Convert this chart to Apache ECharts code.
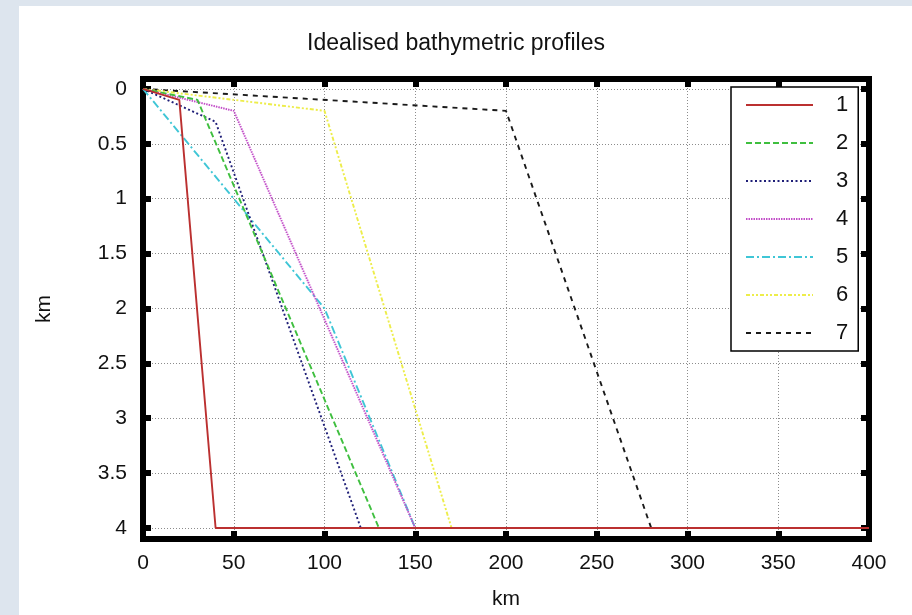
<!DOCTYPE html>
<html>
<head>
<meta charset="utf-8">
<script src="https://cdn.jsdelivr.net/npm/echarts@6/dist/echarts.min.js"></script>
<style>
  html, body { margin: 0; padding: 0; background: #dde5ee; }
  #chart { width: 912px; height: 615px; }
</style>
</head>
<body>
<div id="chart"></div>
<script>
// profile names (legend)
const names = ['1', '2', '3', '4', '5', '6', '7'];

// [distance km, depth km] for each idealised profile
const profile1 = [[0, 0], [20, 0.1], [40, 4], [400, 4]];
const profile2 = [[0, 0], [30, 0.1], [130, 4], [400, 4]];
const profile3 = [[0, 0], [40, 0.3], [120, 4], [400, 4]];
const profile4 = [[0, 0], [50, 0.2], [150, 4], [400, 4]];
const profile5 = [[0, 0], [100, 2], [150, 4], [400, 4]];
const profile6 = [[0, 0], [100, 0.2], [170, 4], [400, 4]];
const profile7 = [[0, 0], [200, 0.2], [280, 4], [400, 4]];

const yTicks = [0, 0.5, 1, 1.5, 2, 2.5, 3, 3.5, 4];

const chart = echarts.init(document.getElementById('chart'));

const styles = [
  { color: '#bb3030', type: 'solid' },
  { color: '#3fbf3f', type: [6, 3] },
  { color: '#1f1f78', type: [2, 2.5] },
  { color: '#c24ec8', type: [1.5, 1] },
  { color: '#3fc6d6', type: [8, 3, 2, 3] },
  { color: '#eded4a', type: [4, 2, 2, 2, 2, 2] },
  { color: '#1a1a1a', type: [5, 5] }
];
const profiles = [profile1, profile2, profile3, profile4, profile5, profile6, profile7];

const font = 'Liberation Sans, Arial, sans-serif';
const frame = { show: true, onZero: false, lineStyle: { color: '#000', width: 6, cap: 'square' } };
const tick = { show: true, inside: true, length: 8, lineStyle: { color: '#000', width: 6 } };

chart.setOption({
  animation: false,
  backgroundColor: '#dde5ee',
  graphic: [{
    type: 'rect', z: -100, silent: true,
    shape: { x: 19, y: 6, width: 893, height: 609 },
    style: { fill: '#ffffff' }
  }],
  title: {
    text: 'Idealised bathymetric profiles',
    left: 'center',
    top: 32,
    padding: [0, 0, 0, 104],
    textStyle: { fontFamily: font, fontSize: 23, fontWeight: 'normal', color: '#111' }
  },
  legend: {
    data: names,
    orient: 'vertical',
    left: 731,
    top: 87,
    padding: [6, 8, 6, 14],
    itemWidth: 67,
    itemHeight: 14,
    itemGap: 14,
    itemStyle: { opacity: 0 },
    backgroundColor: '#fff',
    borderColor: '#000',
    borderWidth: 1.5,
    borderRadius: 0,
    textStyle: { fontFamily: font, fontSize: 22, lineHeight: 24, color: '#111', padding: [0, 2, 0, 18] }
  },
  grid: { left: 143, right: 43, top: 79, bottom: 70 },
  xAxis: [{
    type: 'value', min: 0, max: 400, interval: 50,
    name: 'km', nameLocation: 'middle', nameGap: 50,
    nameTextStyle: { fontFamily: font, fontSize: 21, color: '#111' },
    axisLine: frame, axisTick: tick,
    axisLabel: { fontFamily: font, fontSize: 21, color: '#111', margin: 14 },
    splitLine: { show: true, lineStyle: { color: '#8c8c8c', width: 1, type: [1, 2] } }
  }, {
    type: 'value', position: 'top', min: 0, max: 400, interval: 50,
    axisLine: frame, axisTick: tick, axisLabel: { show: false }, splitLine: { show: false }
  }],
  yAxis: [{
    type: 'value', inverse: true, min: -0.09, max: 4.1,
    name: 'km', nameLocation: 'middle', nameGap: 88, nameRotate: 90,
    nameTextStyle: { fontFamily: font, fontSize: 21, color: '#111' },
    axisLine: frame,
    axisTick: Object.assign({ customValues: yTicks }, tick),
    axisLabel: { customValues: yTicks, fontFamily: font, fontSize: 21, color: '#111', margin: 16 },
    splitLine: { show: true, lineStyle: { color: '#8c8c8c', width: 1, type: [1, 2] } }
  }, {
    type: 'value', position: 'right', inverse: true, min: -0.09, max: 4.1,
    axisLine: frame,
    axisTick: Object.assign({ customValues: yTicks }, tick),
    axisLabel: { show: false }, splitLine: { show: false }
  }],
  series: profiles.map((d, i) => ({
    name: names[i],
    type: 'line',
    data: d,
    symbol: 'none',
    color: styles[i].color,
    lineStyle: { color: styles[i].color, width: 1.9, type: styles[i].type },
    z: 10 - i
  }))
});
</script>
</body>
</html>
